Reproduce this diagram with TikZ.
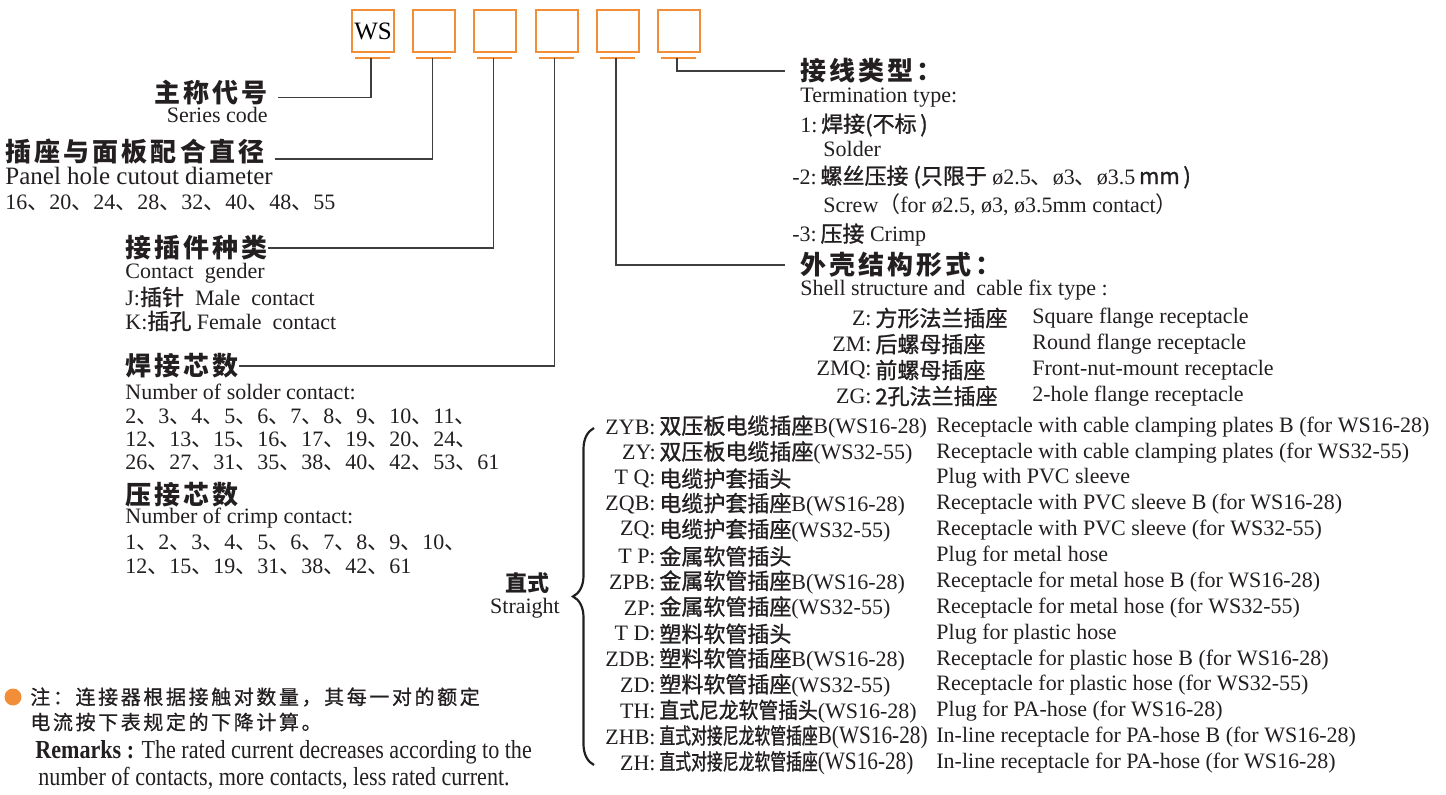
\documentclass[tikz,border=0pt]{standalone}
\usepackage{fontspec}
\setmainfont{Liberation Serif}
\newfontfamily\cjk{Noto Sans CJK SC}
\newfontfamily\cjkm{Noto Sans CJK SC}[FakeBold=1.2]
\newfontfamily\cjks{Noto Sans CJK SC}[FakeStretch=0.9,FakeBold=1.2]
\newfontfamily\cjkhead{Noto Sans CJK SC}[LetterSpace=12]
\newfontfamily\cjknote{Noto Sans CJK SC}[LetterSpace=13,FakeBold=0.8]
\newfontfamily\cjknarrow{Noto Sans CJK SC}[FakeStretch=0.72,FakeBold=1.2]
\newfontfamily\serifnarrow{Liberation Serif}[FakeStretch=0.85]
\usetikzlibrary{decorations.pathreplacing}

\definecolor{boxorange}{RGB}{242,142,56}
\definecolor{leadgray}{RGB}{62,62,62}
\definecolor{inkblack}{RGB}{35,31,32}

\newcommand\zh[1]{{\cjk #1}}
\newcommand\zhm[1]{{\cjkm #1}}
\newcommand\zhs[1]{{\cjks #1}}
\newcommand\zhn[1]{{\cjknarrow #1}}
\newcommand\sn[1]{{\fontsize{12.5}{14}\selectfont\serifnarrow #1}}
\newcommand\dun{{\cjk 、}}

\tikzset{
  codebox/.style={draw=boxorange, line width=1pt, minimum size=21pt, inner sep=0pt,
    font=\fontsize{12.5}{14}\selectfont},
  uline/.style={draw=boxorange, line width=1pt},
  lead/.style={draw=leadgray, line width=0.7pt},
  head/.style={inner sep=0pt, text=inkblack, font=\fontsize{13}{15}\selectfont\cjkhead\bfseries},
  txt/.style={inner sep=0pt, text=inkblack, font=\fontsize{11}{13}\selectfont},
  note/.style={inner sep=0pt, text=inkblack, font=\fontsize{10}{12}\selectfont\cjknote},
  remark/.style={inner sep=0pt, text=inkblack, font=\fontsize{13}{15}\selectfont\serifnarrow},
  brace/.style={draw=inkblack, line width=1.1pt, decorate, decoration={brace, amplitude=10.5pt}}
}

\begin{document}
\begin{tikzpicture}[x=0.5pt,y=-0.5pt]
\useasboundingbox (0,0) rectangle (1446,794);

\foreach \i/\lbl in {1/WS,2/,3/,4/,5/,6/}{
  \node[codebox] (b\i) at ({373+61.2*(\i-1)},31) {\lbl};
  \coordinate (u\i) at ({371+61.2*(\i-1)},57.5);
  \draw[uline] (u\i) +(-16,0) -- +(19,0);
}

% left column
\node[head, anchor=east] (series) at (268,93) {主称代号};
\node[txt, anchor=east] (seriesen) at (268,115) {Series code};
\node[head, anchor=west] (dia) at (5,152) {插座与面板配合直径};
\node[txt, anchor=west, font=\fontsize{12.5}{15}\selectfont] (diaen) at (5,176) {Panel hole cutout diameter};
\node[txt, anchor=west] (dialist) at (5,203) {16\dun 20\dun 24\dun 28\dun 32\dun 40\dun 48\dun 55};

\node[head, anchor=west] (gender) at (125,248) {接插件种类};
\node[txt, anchor=west] (genderen) at (125,273) {Contact~ gender};
\node[txt, anchor=west] (male) at (125,297) {J:\zhm{插针}~ Male~ contact};
\node[txt, anchor=west] (female) at (125,321) {K:\zhm{插孔} Female~ contact};

\node[head, anchor=west] (solder) at (125,366) {焊接芯数};
\node[txt, anchor=west] (solderen) at (125,392) {Number of solder contact:};
\node[txt, anchor=west] (solder1) at (125,417) {2\dun 3\dun 4\dun 5\dun 6\dun 7\dun 8\dun 9\dun 10\dun 11\dun};
\node[txt, anchor=west] (solder2) at (125,440) {12\dun 13\dun 15\dun 16\dun 17\dun 19\dun 20\dun 24\dun};
\node[txt, anchor=west] (solder3) at (125,463) {26\dun 27\dun 31\dun 35\dun 38\dun 40\dun 42\dun 53\dun 61};
\node[head, anchor=west] (crimp) at (125,495) {压接芯数};
\node[txt, anchor=west] (crimpen) at (125,518) {Number of crimp contact:};
\node[txt, anchor=west] (crimp1) at (125,543) {1\dun 2\dun 3\dun 4\dun 5\dun 6\dun 7\dun 8\dun 9\dun 10\dun};
\node[txt, anchor=west] (crimp2) at (125,567) {12\dun 15\dun 19\dun 31\dun 38\dun 42\dun 61};

% right column
\node[head, anchor=west] (term) at (800,71) {接线类型：};
\node[txt, anchor=west] (termen) at (800,98) {Termination type:};
\node[txt, anchor=west] (term1) at (800,125) {1:\,\zhm{焊接(不标\,)}};
\node[txt, anchor=west] (term1en) at (823,149) {Solder};
\node[txt, anchor=west] (term2) at (792,177) {-2:\,\zhm{螺丝压接 (只限于} ø2.5\dun ø3\dun ø3.5\,\zhm{mm\,)}};
\node[txt, anchor=west] (term2en) at (823,205) {Screw\zh{（}for ø2.5, ø3, ø3.5mm contact\zh{）}};
\node[txt, anchor=west] (term3) at (792,235) {-3:\,\zhm{压接} Crimp};

\node[head, anchor=west] (shell) at (800,265) {外壳结构形式：};
\node[txt, anchor=west] (shellen) at (800,290) {Shell structure and~ cable fix type :};
\foreach \c/\z/\e [count=\k] in {
  Z/方形法兰插座/Square flange receptacle,
  ZM/后螺母插座/Round flange receptacle,
  ZMQ/前螺母插座/Front-nut-mount receptacle,
  ZG/2孔法兰插座/2-hole flange receptacle}{
  \node[txt, anchor=east] (sc\k) at (872,{292+26*\k}) {\c:};
  \node[txt, anchor=west] (sz\k) at (875,{292+26*\k}) {\zhm{\z}};
  \node[txt, anchor=west] (se\k) at (1032,{292+26*\k}) {\e};
}

% straight types
\node[inner sep=0pt, text=inkblack, font=\fontsize{11}{13}\selectfont\cjk\bfseries] (straight) at (527,583) {直式};
\node[txt] (straighten) at (525,608) {Straight};
\coordinate (bt) at (594,428);
\coordinate (bb) at (594,765);
\draw[brace] (bb) -- (bt);
\foreach \c/\z/\e [count=\k from 0] in {
  ZYB/\zhm{双压板电缆插座}B(WS16-28)/Receptacle with cable clamping plates B (for WS16-28),
  ZY/\zhm{双压板电缆插座}(WS32-55)/Receptacle with cable clamping plates (for WS32-55),
  T Q/\zhm{电缆护套插头}/Plug with PVC sleeve,
  ZQB/\zhm{电缆护套插座}B(WS16-28)/Receptacle with PVC sleeve B (for WS16-28),
  ZQ/\zhm{电缆护套插座}(WS32-55)/Receptacle with PVC sleeve (for WS32-55),
  T P/\zhm{金属软管插头}/Plug for metal hose,
  ZPB/\zhm{金属软管插座}B(WS16-28)/Receptacle for metal hose B (for WS16-28),
  ZP/\zhm{金属软管插座}(WS32-55)/Receptacle for metal hose (for WS32-55),
  T D/\zhm{塑料软管插头}/Plug for plastic hose,
  ZDB/\zhm{塑料软管插座}B(WS16-28)/Receptacle for plastic hose B (for WS16-28),
  ZD/\zhm{塑料软管插座}(WS32-55)/Receptacle for plastic hose (for WS32-55),
  TH/\zhs{直式尼龙软管插头}(WS16-28)/Plug for PA-hose (for WS16-28),
  ZHB/\zhn{直式对接尼龙软管插座}\sn{B(WS16-28)}/In-line receptacle for PA-hose B (for WS16-28),
  ZH/\zhn{直式对接尼龙软管插座}\sn{(WS16-28)}/In-line receptacle for PA-hose (for WS16-28)}{
  \node[txt, anchor=east] (rc\k) at (656,{427+25.85*\k}) {\c:};
  \node[txt, anchor=west] (rz\k) at (659,{427+25.85*\k}) {\z};
  \node[txt, anchor=west] (re\k) at (936,{427+25.85*\k}) {\e};
}

% remarks
\node[circle, fill=boxorange, minimum size=8.5pt, inner sep=0pt] (dot) at (13,697) {};
\node[note, anchor=west] (note1) at (30,697) {注：连接器根据接触对数量，其每一对的额定};
\node[note, anchor=west] (note2) at (30,722) {电流按下表规定的下降计算。};
\node[remark, anchor=west] (rem1) at (35,752) {\textbf{Remarks :} The rated current decreases according to the};
\node[remark, anchor=west] (rem2) at (38,778) {number of contacts, more contacts, less rated current.};

% leaders
\draw[lead] (u1) |- ([xshift=5pt,yshift=-2.3pt]series.east);
\draw[lead] (u2) |- ([xshift=5pt,yshift=-3.5pt]dia.east);
\draw[lead] (u3) |- (gender.east);
\draw[lead] (u4) |- (solder.east);
\draw[lead] (u5) |- ([xshift=-7.5pt]shell.west);
\draw[lead] (u6) |- ([xshift=-7.5pt]term.west);
\end{tikzpicture}
\end{document}
